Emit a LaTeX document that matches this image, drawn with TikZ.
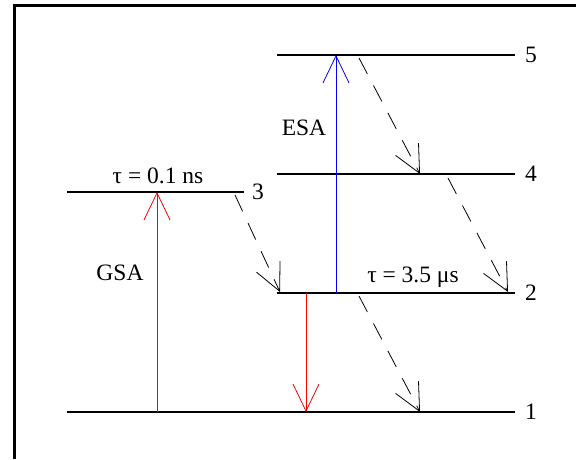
\documentclass[tikz,border=0pt]{standalone}
\usepackage{fontspec}
\setmainfont{Liberation Serif}
\usetikzlibrary{arrows.meta}

\begin{document}
\begin{tikzpicture}[x=1pt,y=-1pt,
	level/.style={line width=2.5pt},
	trans/.style={line width=0.8pt,-{Straight Barb[length=27pt,width=26pt,line width=0.8pt]}},
	decay/.style={trans,dash pattern=on 18pt off 13pt},
	every node/.style={font=\fontsize{23.5}{28}\selectfont,inner sep=0pt}]
	\useasboundingbox (0,0) rectangle (576,459);
	\draw [line width=3pt] (14,459) -- (14,5) -- (576,5);
	
	\coordinate (E1a) at (67,412);
	\coordinate (E1b) at (515,412);
	\coordinate (E2a) at (277,293);
	\coordinate (E2b) at (515,293);
	\coordinate (E3a) at (67,192);
	\coordinate (E3b) at (244,192);
	\coordinate (E4a) at (277,174);
	\coordinate (E4b) at (515,174);
	\coordinate (E5a) at (277,55);
	\coordinate (E5b) at (515,55);
	
	\draw [level] (E1a) -- (E1b);
	\draw [level] (E2a) -- (E2b);
	\draw [level] (E3a) -- (E3b);
	\draw [level] (E4a) -- (E4b);
	\draw [level] (E5a) -- (E5b);
	
	\node [anchor=west] (N1) at (525,412) {1};
	\node [anchor=west] (N2) at (525,293) {2};
	\node [anchor=west] (N3) at (252,192) {3};
	\node [anchor=west] (N4) at (525,174) {4};
	\node [anchor=west] (N5) at (525,55) {5};
	
	\coordinate (G1) at (157,412);
	\coordinate (G3) at (157,192);
	\coordinate (S2) at (336,293);
	\coordinate (S5) at (336,55);
	\coordinate (R2) at (306,293);
	\coordinate (R1) at (306,412);
	
	\coordinate (D5) at (359,58);
	\coordinate (D4) at (420,174);
	\coordinate (D4s) at (448,178);
	\coordinate (D2) at (508,292);
	\coordinate (D3) at (235,195);
	\coordinate (D2e) at (280,292);
	\coordinate (D2s) at (359,296);
	\coordinate (D1) at (420,412);
	
	\draw [trans,red] (G1) -- (G3);
	\draw [trans,blue] (S2) -- (S5);
	\draw [trans,red] (R2) -- (R1);
	
	\draw [decay] (D5) -- (D4);
	\draw [decay] (D4s) -- (D2);
	\draw [decay] (D3) -- (D2e);
	\draw [decay] (D2s) -- (D1);
	
	\node (GSA) at (120,273) {GSA};
	\node (ESA) at (304,128) {ESA};
	\node [anchor=base] (T3) at (158,183) {τ = 0.1 ns};
	\node [anchor=base] (T2) at (413,282) {τ = 3.5 μs};
\end{tikzpicture}
\end{document}
